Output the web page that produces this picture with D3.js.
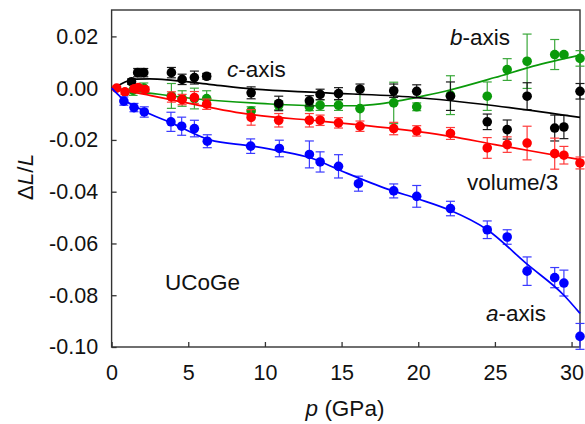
<!DOCTYPE html>
<html><head><meta charset="utf-8">
<script src="https://cdn.jsdelivr.net/npm/d3@7"></script>
<style>
html,body{margin:0;padding:0;background:#fff;}
text{font-family:"Liberation Sans",Arial,sans-serif;fill:#111;}
</style></head>
<body><svg id="chart" width="585" height="424"></svg>
<script>
// ---------- data ----------
// c-axis (black)
const cP   = [1.3,1.7,2.1,3.9,4.6,5.4,6.2,9.1,10.9,12.9,13.6,14.8,16.2,18.4,19.9,22.1,24.5,25.8,27.1,28.9,29.5,30.55];
const cV   = [0.0025,0.006,0.006,0.006,0.0034,0.0041,0.0046,-0.0018,-0.0059,-0.0049,-0.0024,-0.0021,-0.0004,-0.001,-0.0012,-0.0031,-0.013,-0.016,-0.0031,-0.0154,-0.015,-0.0012];
const cErr = [0.001,0.0016,0.0016,0.002,0.002,0.0025,0.0011,0.0023,0.0028,0.002,0.002,0.0023,0.002,0.0026,0.0025,0.0055,0.003,0.0037,0.0052,0.005,0.0045,0.003];
// b-axis (green)
const bP   = [1.4,2.1,3.9,4.6,5.4,6.2,9.1,10.9,12.9,13.6,14.8,16.2,18.4,19.9,22.1,24.5,25.8,27.1,28.9,29.5,30.55];
const bV   = [-0.0008,0.0,-0.003,-0.004,-0.004,-0.004,-0.0088,-0.0066,-0.0072,-0.0066,-0.0066,-0.0079,-0.0057,-0.0072,-0.0027,-0.0031,0.0072,0.0104,0.013,0.013,0.0115];
const bErr = [0.002,0.002,0.0048,0.003,0.004,0.003,0.0016,0.0017,0.0015,0.002,0.002,0.007,0.008,0.0015,0.0075,0.0055,0.0042,0.0105,0.0058,0.0005,0.003];
// volume/3 (red)
const vP   = [0.33,0.87,1.48,1.74,2.18,3.9,4.6,5.4,6.2,9.1,10.9,12.9,13.6,14.8,16.2,18.4,19.9,22.1,24.5,25.8,27.1,28.9,29.5,30.55];
const vV   = [0.0,-0.0014,-0.0002,0.0002,-0.0005,-0.0034,-0.0044,-0.0036,-0.0062,-0.0113,-0.0124,-0.0124,-0.0124,-0.0134,-0.0147,-0.0156,-0.0165,-0.0175,-0.0231,-0.0218,-0.0212,-0.0253,-0.0259,-0.0289];
const vErr = [0.0008,0.001,0.001,0.001,0.001,0.002,0.002,0.0023,0.002,0.003,0.0026,0.0026,0.002,0.002,0.002,0.0024,0.002,0.0023,0.004,0.003,0.0065,0.006,0.0034,0.0023];
// a-axis (blue)
const aP   = [0.8,1.46,2.13,3.87,4.57,5.4,6.24,9.07,10.94,12.9,13.6,14.8,16.1,18.4,19.9,22.1,24.5,25.8,27.1,28.9,29.5,30.55];
const aV   = [-0.005,-0.0075,-0.0092,-0.013,-0.0147,-0.0156,-0.0205,-0.0224,-0.0233,-0.0256,-0.0285,-0.0302,-0.0369,-0.0397,-0.0418,-0.0465,-0.0547,-0.0575,-0.0707,-0.0732,-0.0753,-0.0959];
const aErr = [0.0016,0.0016,0.002,0.0037,0.0035,0.0032,0.0025,0.0028,0.0032,0.0052,0.0039,0.0045,0.0029,0.0027,0.0042,0.0028,0.0034,0.0028,0.0055,0.0039,0.005,0.005];

// fitted curves
const cFitP = [0,0.5,1,1.6,2.5,4,6.5,9.1,13.6,19.7,25,30.55];
const cFitV = [0,0.0012,0.0027,0.0035,0.0036,0.003,0.0014,-0.0003,-0.0017,-0.0035,-0.0068,-0.0113];
const bFitP = [0,2,5,10,13.6,16,17.5,19,20.5,22,25,27.5,30.55];
const bFitV = [0,-0.0015,-0.0038,-0.006,-0.0068,-0.0068,-0.0061,-0.0046,-0.0028,-0.0008,0.0041,0.0085,0.0128];
const vFitP = [0,2,5,9.1,13.6,16.2,20,22.1,25,27.1,30.55];
const vFitV = [0,-0.0022,-0.0058,-0.0102,-0.0127,-0.0142,-0.0168,-0.0186,-0.0218,-0.024,-0.0276];
const aFitP = [0,0.7,2,4,6.4,9.1,11,13,15,18,20,22,24.5,27.1,29.5,30.55];
const aFitV = [0,-0.004,-0.0085,-0.0137,-0.02,-0.0223,-0.0243,-0.027,-0.032,-0.039,-0.0428,-0.047,-0.0547,-0.068,-0.08,-0.087];

// ticks
const xTickValues = [0,5,10,15,20,25,30];
const xTickLabels = ["0","5","10","15","20","25","30"];
const yTickValues = [0.02,0.0,-0.02,-0.04,-0.06,-0.08,-0.10];
const yTickLabels = ["0.02","0.00","-0.02","-0.04","-0.06","-0.08","-0.10"];

// ---------- drawing ----------
const svg = d3.select("#chart");
const L = 111.6, R = 580, T = 10, B = 347;
const x = d3.scaleLinear().domain([0, 30.55]).range([L, R]);
const y = d3.scaleLinear().domain([-0.1, 0.0302]).range([B, T]);

const FS = 21, FA = 22.5;

// frame
svg.append("rect").attr("x", L).attr("y", T).attr("width", R - L).attr("height", B - T)
  .attr("fill", "none").attr("stroke", "#333").attr("stroke-width", 1.4);

// axes
const xAxis = d3.axisBottom(x).tickValues(xTickValues)
  .tickFormat((d, i) => xTickLabels[i]).tickSize(-5).tickPadding(18);
const gx = svg.append("g").attr("transform", `translate(0,${B})`).call(xAxis);
const yAxis = d3.axisLeft(y).tickValues(yTickValues)
  .tickFormat((d, i) => yTickLabels[i]).tickSize(-5).tickPadding(13.5);
const gy = svg.append("g").attr("transform", `translate(${L},0)`).call(yAxis);
[gx, gy].forEach(g => {
  g.select(".domain").remove();
  g.selectAll(".tick line").attr("stroke", "#333").attr("stroke-width", 1.3);
  g.selectAll(".tick text").attr("font-size", FS + 0.5).attr("font-family", "Liberation Sans, Arial, sans-serif").attr("fill", "#111");
});

// axis titles
svg.append("text").attr("x", 345).attr("y", 416).attr("text-anchor", "middle").attr("font-size", FA)
  .html('<tspan font-style="italic">p</tspan> (GPa)');
svg.append("text").attr("transform", "translate(32.5,177) rotate(-90)").attr("text-anchor", "middle").attr("font-size", FA)
  .html('Δ<tspan font-style="italic">L</tspan>/<tspan font-style="italic">L</tspan>');

// series
const series = [
  {P: bP, V: bV, E: bErr, fp: bFitP, fv: bFitV, col: "#0a9a0a", ecol: "#3aa83a"},
  {P: cP, V: cV, E: cErr, fp: cFitP, fv: cFitV, col: "#000000", ecol: "#1a1a1a"},
  {P: vP, V: vV, E: vErr, fp: vFitP, fv: vFitV, col: "#ff0000", ecol: "#ff3a3a"},
  {P: aP, V: aV, E: aErr, fp: aFitP, fv: aFitV, col: "#0000ff", ecol: "#3a3aff"}
];
const line = d3.line().x(d => x(d[0])).y(d => y(d[1])).curve(d3.curveMonotoneX);
const cap = 4.5;

series.forEach(s => {
  const g = svg.append("g");
  const pts = s.P.map((p, i) => ({p, v: s.V[i], e: s.E[i]}));
  const eb = g.append("g").attr("stroke", s.ecol).attr("stroke-width", 1.2).attr("fill", "none");
  pts.forEach(d => {
    const x0 = x(d.p), y1 = y(d.v + d.e), y2 = y(d.v - d.e);
    eb.append("line").attr("x1", x0).attr("x2", x0).attr("y1", y1).attr("y2", y2);
    eb.append("line").attr("x1", x0 - cap).attr("x2", x0 + cap).attr("y1", y1).attr("y2", y1);
    eb.append("line").attr("x1", x0 - cap).attr("x2", x0 + cap).attr("y1", y2).attr("y2", y2);
  });
  g.selectAll("circle").data(pts).join("circle")
    .attr("cx", d => x(d.p)).attr("cy", d => y(d.v)).attr("r", 4.8).attr("fill", s.col);
  g.append("path").datum(s.fp.map((p, i) => [p, s.fv[i]])).attr("d", line)
    .attr("fill", "none").attr("stroke", s.col).attr("stroke-width", 1.7);
});

// annotations
const ann = svg.append("g").attr("font-size", FA);
ann.append("text").attr("x", 227).attr("y", 77).html('<tspan font-style="italic">c</tspan>-axis');
ann.append("text").attr("x", 450).attr("y", 45).html('<tspan font-style="italic">b</tspan>-axis');
ann.append("text").attr("x", 467).attr("y", 190).text("volume/3");
ann.append("text").attr("x", 486).attr("y", 321).html('<tspan font-style="italic">a</tspan>-axis');
ann.append("text").attr("x", 165).attr("y", 290).text("UCoGe");
</script></body></html>
